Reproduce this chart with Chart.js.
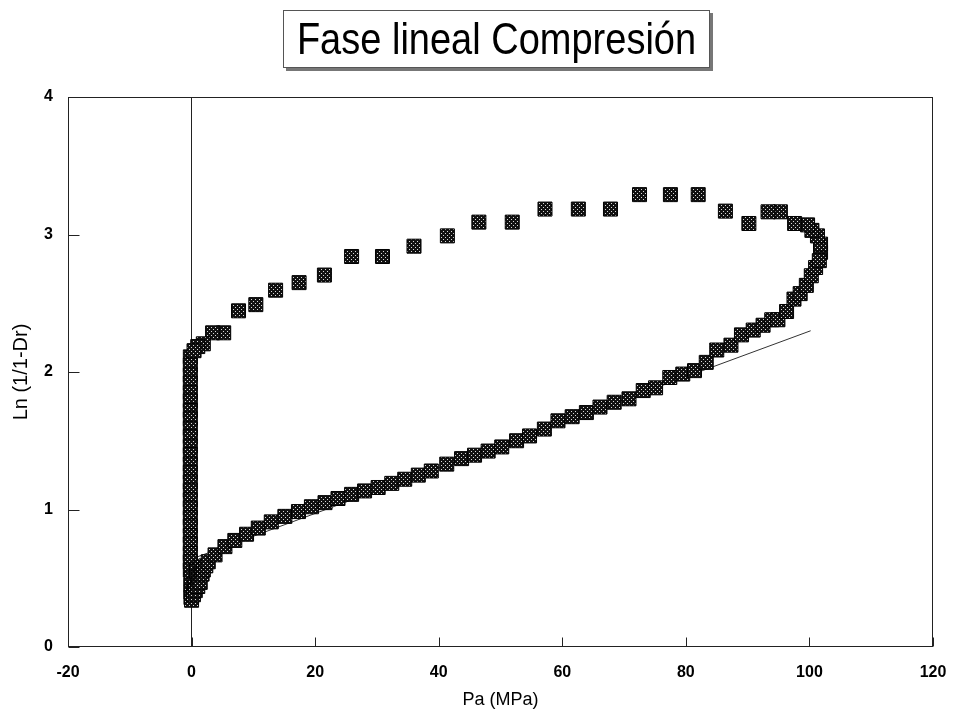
<!DOCTYPE html>
<html><head><meta charset="utf-8">
<script src="https://cdn.jsdelivr.net/npm/chart.js@4"></script>
<style>
html,body{margin:0;padding:0;background:#fff;}
#wrap{position:relative;width:956px;height:716px;overflow:hidden;}
canvas{position:absolute;left:0;top:0;}
#title{position:absolute;left:283px;top:10px;width:425px;height:56px;border:1px solid #555;box-shadow:3px 3px 0 #777;background:#fff;
font-family:"Liberation Sans",Arial,sans-serif;font-size:38px;line-height:56px;text-align:center;color:#000;}
#title span{display:inline-block;transform:scaleY(1.15);}
</style></head>
<body>
<div id="wrap"><canvas id="c" width="956" height="716"></canvas><div id="title"><span>Fase lineal Compresión</span></div></div>
<script>
// ---- data ----
const loadingPa = [0.0,0.3,0.5,0.6,0.8,1.0,1.1,1.4,1.5,1.7,1.9,2.3,2.7,3.8,5.4,7.0,8.9,10.8,12.9,15.1,17.3,19.4,21.6,23.7,25.9,28.0,30.2,32.4,34.5,36.7,38.8,41.3,43.7,45.8,48.0,50.2,52.6,54.7,57.1,59.3,61.6,63.9,66.1,68.4,70.8,73.1,75.1,77.4,79.5,81.4,83.3,85.0,87.3,89.0,90.9,92.5,93.9,94.9,96.3,97.5,98.5,99.5,100.3,101.0,101.6];
const loadingLn = [0.34,0.38,0.46,0.41,0.55,0.44,0.51,0.47,0.58,0.53,0.56,0.59,0.62,0.67,0.73,0.775,0.82,0.865,0.91,0.95,0.985,1.02,1.05,1.08,1.11,1.135,1.16,1.19,1.22,1.25,1.28,1.33,1.37,1.395,1.425,1.455,1.50,1.535,1.585,1.645,1.675,1.705,1.745,1.78,1.805,1.865,1.885,1.96,1.985,2.01,2.07,2.16,2.195,2.27,2.305,2.34,2.38,2.38,2.44,2.53,2.57,2.63,2.70,2.76,2.81];
const unloadingPa = [101.8,101.8,101.3,100.4,99.7,97.6,95.3,93.3,90.2,86.4,82.0,77.5,72.5,67.8,62.6,57.2,51.9,46.5,41.4,36.0,30.9,25.9,21.5,17.4,13.6,10.4,7.6,5.2,3.4,1.9,1.0,0.4];
const unloadingLn = [2.87,2.93,2.99,3.03,3.07,3.08,3.165,3.165,3.08,3.17,3.29,3.29,3.29,3.185,3.185,3.185,3.09,3.09,2.99,2.915,2.84,2.84,2.705,2.65,2.595,2.49,2.445,2.285,2.285,2.205,2.185,2.155];
const dropPa = [-0.2,-0.2,-0.2,-0.2,-0.2,-0.2,-0.2,-0.2,-0.2,-0.2,-0.2,-0.2,-0.2,-0.2,-0.2,-0.2,-0.2,-0.2,-0.2,-0.2,-0.2,-0.2,-0.2,-0.2,-0.2,-0.1,-0.1,-0.1,-0.1];
const dropLn = [2.11,2.05,1.98,1.92,1.85,1.79,1.72,1.66,1.59,1.53,1.46,1.40,1.33,1.27,1.20,1.14,1.07,1.01,0.94,0.88,0.81,0.75,0.68,0.62,0.56,0.50,0.45,0.40,0.36];
const fitPa = [0, 100.2];
const fitLn = [0.64, 2.30];
const xTickValues = [-20,0,20,40,60,80,100,120];
const yTickValues = [0,1,2,3,4];
const xTitle = 'Pa (MPa)';
const yTitle = 'Ln (1/1-Dr)';

const zip = (xs, ys) => xs.map((v,i)=>({x:v, y:ys[i]}));

function makePattern(){
  const c = document.createElement('canvas'); c.width = 4; c.height = 4;
  const g = c.getContext('2d');
  g.fillStyle = '#111'; g.fillRect(0,0,4,4);
  g.fillStyle = '#d8d8d8'; g.fillRect(1,1,1,1); g.fillRect(3,3,1,1);
  return g.createPattern(c,'repeat');
}
const pat = makePattern();

const framePlugin = {
  id:'frame',
  afterDraw(chart){
    const {ctx, chartArea:a, scales:{x,y}} = chart;
    ctx.save();
    ctx.strokeStyle = '#222'; ctx.lineWidth = 1;
    const L = Math.round(a.left)+0.5, R = Math.round(a.right)-0.5, T = Math.round(a.top)+0.5, B = Math.round(a.bottom)-0.5;
    ctx.strokeRect(L, T, R-L, B-T);
    ctx.beginPath();
    x.ticks.forEach(t=>{ const px = Math.round(x.getPixelForValue(t.value))+0.5; ctx.moveTo(px,B); ctx.lineTo(px,B-9); });
    y.ticks.forEach(t=>{ const py = Math.round(y.getPixelForValue(t.value))+0.5; ctx.moveTo(L,py); ctx.lineTo(L+11,py); });
    ctx.stroke();
    ctx.restore();
  }
};

const ptStyle = {pointStyle:'rect', pointRadius:9.9, pointBackgroundColor:pat, pointBorderColor:'#000', pointBorderWidth:1, showLine:false, order:1};

new Chart(document.getElementById('c'), {
  type:'scatter',
  data:{datasets:[
    Object.assign({label:'carga', data:zip(loadingPa, loadingLn)}, ptStyle),
    Object.assign({label:'descarga', data:zip(unloadingPa, unloadingLn)}, ptStyle),
    Object.assign({label:'caida', data:zip(dropPa, dropLn)}, ptStyle),
    {label:'ajuste', type:'line', data:zip(fitPa, fitLn), showLine:true, pointRadius:0, borderColor:'#333', borderWidth:1, fill:false, order:2}
  ]},
  options:{
    responsive:false, animation:false, events:[],
    layout:{padding:{top:97, right:23, bottom:0, left:0}},
    plugins:{legend:{display:false}, tooltip:{enabled:false}, title:{display:false}},
    scales:{
      x:{type:'linear', min:-20, max:120,
        afterBuildTicks:s=>{ s.ticks = xTickValues.map(v=>({value:v})); },
        afterFit:s=>{ s.height = 69; s.paddingLeft = 0; s.paddingRight = 0; },
        grid:{drawTicks:false, lineWidth:1, color:c=> (c.tick && c.tick.value===0) ? '#222' : 'rgba(0,0,0,0)'},
        border:{display:false},
        ticks:{padding:16, color:'#000', font:{family:'"Liberation Sans", Arial, sans-serif', size:16, weight:'bold'}, maxRotation:0},
        title:{display:true, text:xTitle, color:'#000', padding:{top:0,bottom:5}, font:{family:'"Liberation Sans", Arial, sans-serif', size:18}}
      },
      y:{type:'linear', min:0, max:4,
        afterBuildTicks:s=>{ s.ticks = yTickValues.map(v=>({value:v})); },
        afterFit:s=>{ s.width = 68; s.paddingTop = 0; s.paddingBottom = 0; },
        grid:{display:false, drawTicks:false},
        border:{display:false},
        ticks:{padding:15, color:'#000', font:{family:'"Liberation Sans", Arial, sans-serif', size:16, weight:'bold'}},
        title:{display:true, text:yTitle, color:'#000', padding:{top:9,bottom:0}, font:{family:'"Liberation Sans", Arial, sans-serif', size:20}}
      }
    }
  },
  plugins:[framePlugin]
});
</script>
</body></html>
